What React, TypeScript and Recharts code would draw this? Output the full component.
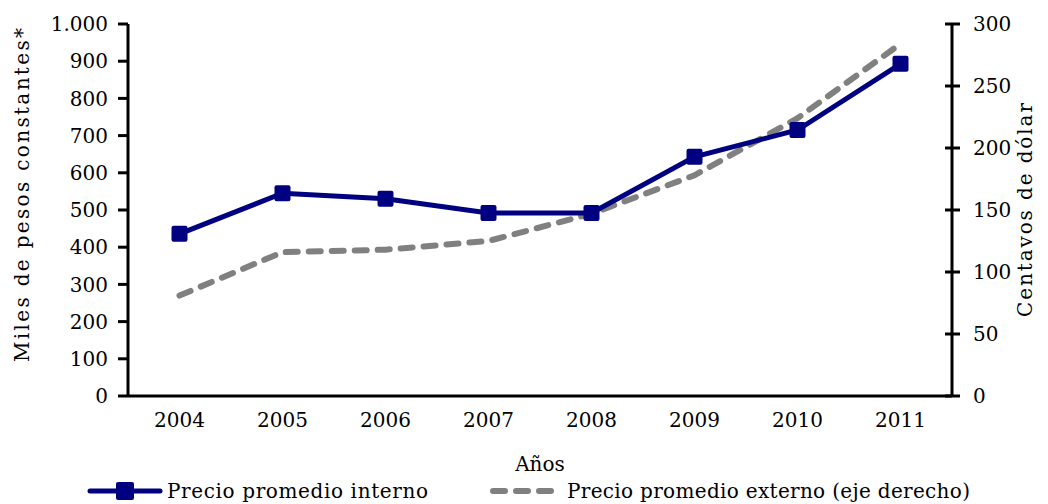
import React from 'react'
import { LineChart, Line, XAxis, YAxis, Legend } from 'recharts'

const years = ['2004', '2005', '2006', '2007', '2008', '2009', '2010', '2011']
const internalPrice = [436, 545, 530, 492, 492, 643, 715, 893]
const externalPrice = [81, 116, 118, 125, 147, 178, 224, 284]
const leftTicks = [0, 100, 200, 300, 400, 500, 600, 700, 800, 900, 1000]
const rightTicks = [0, 50, 100, 150, 200, 250, 300]

const data = years.map((year, i) => ({
  year,
  interno: internalPrice[i],
  externo: externalPrice[i],
}))

const FONT = '"DejaVu Serif", serif'
const BLUE = '#000080'
const GRAY = '#808080'

const fmtThousands = (v: number) => (v >= 1000 ? v.toLocaleString('de-DE') : String(v))

// right axis ticks cross the axis line
function RightTick(props: any) {
  const { x, y, payload } = props
  const axisX = x - 21
  return (
    <g>
      <line x1={axisX - 7} x2={axisX + 8} y1={y} y2={y} stroke="#000" strokeWidth={3} />
      <text x={x} y={y} dy="0.36em" textAnchor="start" fontFamily={FONT} fontSize={20} fill="#000">
        {payload.value}
      </text>
    </g>
  )
}

// vertical axis title, stretched to the width used in the original
function VerticalTitle({ cx, cy, text, len }: { cx: number; cy: number; text: string; len: number }) {
  return (
    <text
      x={cx}
      y={cy}
      dy="0.36em"
      transform={`rotate(-90 ${cx} ${cy})`}
      textAnchor="middle"
      fontFamily={FONT}
      fontSize={20}
      fill="#000"
      textLength={len}
      lengthAdjust="spacing"
    >
      {text}
    </text>
  )
}

function LegendBox() {
  return (
    <div style={{ position: 'relative', height: 28 }}>
      <svg width={1048} height={28} style={{ position: 'absolute', left: 0, top: 0 }}>
        <line x1={90} x2={160} y1={15} y2={15} stroke={BLUE} strokeWidth={5} strokeLinecap="round" />
        <rect x={116} y={6} width={18} height={18} fill={BLUE} rx={2} />
        <line x1={493} x2={553} y1={15} y2={15} stroke={GRAY} strokeWidth={6}
          strokeDasharray="12 11" strokeLinecap="round" />
        <text x={167} y={15} dy="0.36em" fontFamily={FONT} fontSize={20} fill="#000"
          textLength={261} lengthAdjust="spacing">
          Precio promedio interno
        </text>
        <text x={567} y={15} dy="0.36em" fontFamily={FONT} fontSize={20} fill="#000"
          textLength={403} lengthAdjust="spacing">
          Precio promedio externo (eje derecho)
        </text>
      </svg>
    </div>
  )
}

export default function App() {
  return (
    <div style={{ width: 1048, height: 504 }}>
      <style>{'body{margin:0}'}</style>
      <LineChart
        width={1048}
        height={504}
        data={data}
        margin={{ top: 24, right: 0, left: 0, bottom: 0 }}
      >
        <XAxis
          dataKey="year"
          padding={{ left: 51.5, right: 51.5 }}
          height={80}
          tickLine={false}
          tickSize={0}
          tickMargin={17}
          axisLine={{ stroke: '#000', strokeWidth: 3 }}
          tick={{ fontFamily: FONT, fontSize: 20, fill: '#000' }}
          label={{ value: 'Años', position: 'insideBottom', offset: 5, fontFamily: FONT, fontSize: 20, fill: '#000' }}
        />
        <YAxis
          yAxisId="left"
          width={128}
          domain={[0, 1000]}
          ticks={leftTicks}
          interval={0}
          tickFormatter={fmtThousands}
          tickSize={10}
          tickMargin={10}
          axisLine={{ stroke: '#000', strokeWidth: 3 }}
          tickLine={{ stroke: '#000', strokeWidth: 3 }}
          tick={{ fontFamily: FONT, fontSize: 20, fill: '#000' }}
          label={(p: any) => (
            <VerticalTitle cx={22} cy={195} text="Miles de pesos constantes*" len={334} />
          )}
        />
        <YAxis
          yAxisId="right"
          orientation="right"
          width={96}
          domain={[0, 300]}
          ticks={rightTicks}
          interval={0}
          tickSize={8}
          tickMargin={13}
          tickLine={false}
          axisLine={{ stroke: '#000', strokeWidth: 3 }}
          tick={<RightTick />}
          label={(p: any) => (
            <VerticalTitle cx={1025} cy={210} text="Centavos de dólar" len={214} />
          )}
        />
        <Legend verticalAlign="bottom" height={28} content={() => <LegendBox />} />
        <Line
          yAxisId="right"
          dataKey="externo"
          stroke={GRAY}
          strokeWidth={6}
          strokeDasharray="12 11"
          strokeLinecap="round"
          dot={false}
          isAnimationActive={false}
        />
        <Line
          yAxisId="left"
          dataKey="interno"
          stroke={BLUE}
          strokeWidth={5}
          dot={(p: any) => (
            <rect key={p.index} x={p.cx - 8} y={p.cy - 8} width={16} height={16} fill={BLUE} rx={2} />
          )}
          isAnimationActive={false}
        />
      </LineChart>
    </div>
  )
}
